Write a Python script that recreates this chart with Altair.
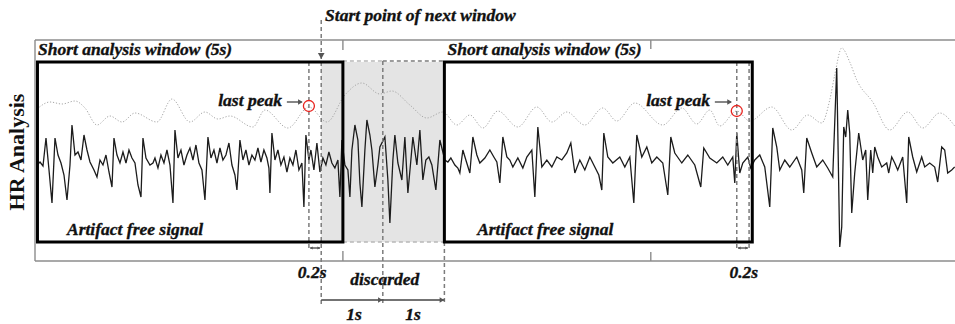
import altair as alt
import pandas as pd

FS = 61.6  # samples per second of the traces

# ---- HR signal (sample index, amplitude a.u.) ----
sig_n = [2, 5, 8, 11, 14, 17, 20, 23, 26, 29, 32, 35, 37, 40, 43, 46, 49, 52, 55, 59,
         62, 65, 68, 71, 74, 77, 79, 82, 85, 88, 91, 94, 97, 100, 103, 106, 108, 111, 115, 118,
         120, 123, 126, 129, 132, 135, 138, 140, 143, 146, 149, 152, 155, 158, 161, 164, 167, 170, 173, 176,
         179, 182, 185, 188, 191, 194, 197, 200, 202, 205, 208, 211, 214, 217, 220, 223, 226, 229, 232,
         234, 235, 237, 240, 243, 246, 249, 252, 255, 258, 261, 264, 267, 269, 271, 274, 276, 279, 282, 285,
         288, 291, 294, 297, 300, 303, 305, 307, 310, 313, 315, 317, 320, 323, 325, 327, 330, 332, 335, 337,
         340, 343, 345,
         350, 353, 355, 358, 360, 363, 367, 370, 373, 376, 378, 382, 385, 388, 391, 394, 397, 401, 405, 410,
         413, 416, 420, 423, 425, 428, 431, 435, 438, 442, 445, 450, 455, 459, 462, 465, 468, 472, 475, 478,
         483, 488, 492, 497, 500, 503, 507, 512, 517, 522, 527, 532, 536, 540, 545, 550, 555, 560, 564, 567,
         569, 573, 578, 585, 590, 595, 599, 602, 607, 612, 617, 622, 628, 633, 636, 640, 647, 653, 660, 666,
         669, 675, 682, 688, 693, 698, 700, 702, 705, 708, 713, 716, 720, 725, 730, 735, 738, 742, 745, 750,
         755, 762, 767, 769, 772, 777, 782, 788, 793, 798,
         802, 805, 807, 809, 811, 813, 815, 817, 820, 824, 828, 831, 833, 836, 838, 840, 843, 847, 852, 854,
         857, 860, 863, 868, 872, 874, 878, 882, 887, 890, 895, 900, 903, 907, 910, 913, 917, 920]
sig_a = [-5, -2, -6, 22, -10, -43, 22, 5, -3, -15, -40, -5, 35, 5, 8, 0, 25, 10, -2, -10,
         -17, 0, -5, 5, -12, -27, 22, 5, -3, 8, -3, 10, 2, -3, -25, -37, 22, 2, -5, -3,
         2, -8, 5, -3, 10, -5, -43, 30, 2, 10, -5, 5, 12, 0, 15, -3, -10, -40, 23, 2,
         10, -3, 12, 0, 5, 17, -5, -15, -30, 20, 0, 10, -5, 5, 0, 12, -2, 10, 2,
         -8, -33, 27, 0, 10, -5, 3, -12, 2, -5, 10, -10, -3, -47, 25, 0, 10, -10, 17, -12,
         2, -5, 8, -3, -8, 0, -37, 20, -5, -10, -37, 10, 35, 20, -23, -47, 10, 40, 25, 10,
         -27, -5, 13,
         23, -20, -63, 0, 25, -3, -20, 23, -33, 0, 23, -5, 30, -20, 0, 3, -5, -30, 20, 0,
         -2, 2, -5, -8, -13, 10, 0, -13, 23, 5, -3, 2, 10, 3, -2, -23, 23, 3, 0, -7,
         2, -8, 3, 10, -37, 33, -7, 0, -7, 3, 0, 7, 17, -13, 0, -10, 3, -7, -15, -30,
         27, 3, -3, 3, -7, 3, -43, 25, 3, 13, -3, 3, -3, -35, 23, 7, -3, 5, -5, -27,
         12, 2, -3, 3, -5, 3, -23, 27, -13, -3, 3, -8, 0, 5, -7, -47, 32, 13, -10, 0,
         -7, 3, -10, -33, 22, 7, -7, 0, -8, -17,
         92, -87, -67, 33, 23, 50, 27, -53, -13, 27, 0, 10, -40, 10, -13, 13, 3, -7, -3, -13,
         3, -3, -10, 3, -43, 23, 3, -12, 3, -7, -3, -7, -22, 13, 10, -13, -10, -7]

# ---- dotted peak-detection trace ----
env_n = [2, 15, 27, 40, 50, 62, 75, 87, 100, 122, 137, 155, 170, 183, 195, 218, 230, 253, 274, 292,
         310, 327, 345, 357, 375, 392, 408, 422, 435, 448, 463, 483, 502, 517, 532, 550, 568, 582, 600, 628,
         647, 662, 675, 685, 702, 715, 737, 757, 773, 787, 795, 800, 807, 815, 822, 838, 855, 873, 888, 905, 920]
env_a = [51, 58, 56, 59, 52, 35, 44, 38, 47, 38, 61, 38, 48, 41, 44, 33, 50, 32, 53, 38,
         65, 77, 66, 69, 55, 42, 48, 35, 45, 32, 49, 33, 53, 38, 48, 35, 52, 39, 57, 35,
         52, 36, 50, 34, 49, 39, 53, 30, 45, 37, 60, 85, 112, 98, 80, 58, 30, 48, 32, 47, 34]

# ---- annotation values (seconds / a.u.) ----
peak_n = [274, 702]
peak_a = [54, 49]
win_start = [0.04, 6.648]
win_end = [5.0, 11.648]
box_top, box_bottom = 98, -82
frame_top, frame_bottom = 120, -101
X_MAX = 14.94

sig = pd.DataFrame({"t": [n / FS for n in sig_n], "a": sig_a})
env = pd.DataFrame({"t": [n / FS for n in env_n], "a": env_a})
peak_t = [n / FS for n in peak_n]
next_start = peak_t[0] + 0.2

xs = alt.Scale(domain=[0, X_MAX], nice=False, zero=False)
ys = alt.Scale(domain=[frame_bottom, frame_top], nice=False, zero=False)


def X(f="x"):
    return alt.X(f"{f}:Q", scale=xs, axis=None)


def Y(f="y"):
    return alt.Y(f"{f}:Q", scale=ys, axis=None)


FONT = "Liberation Serif"

shade = alt.Chart(pd.DataFrame([{"x": next_start, "x2": next_start + 2, "y": box_top, "y2": box_bottom}])).mark_rect(
    color="#e4e4e4").encode(x=X(), x2="x2:Q", y=Y(), y2="y2:Q")

frame_df = pd.DataFrame([
    {"x": 0, "x2": X_MAX, "y": frame_top, "y2": frame_top},
    {"x": 0, "x2": X_MAX, "y": frame_bottom, "y2": frame_bottom},
    {"x": 0, "x2": 0, "y": frame_top, "y2": frame_bottom},
    {"x": 5, "x2": 5, "y": frame_top, "y2": frame_top - 10},
    {"x": 10, "x2": 10, "y": frame_top, "y2": frame_top - 9},
    {"x": 5, "x2": 5, "y": frame_bottom, "y2": frame_bottom + 10},
    {"x": 10, "x2": 10, "y": frame_bottom, "y2": frame_bottom + 9},
])
frame = alt.Chart(frame_df).mark_rule(color="#8c8c8c", strokeWidth=1.4).encode(
    x=X(), x2="x2:Q", y=Y(), y2="y2:Q")

env_line = alt.Chart(env).mark_line(interpolate="monotone", color="#a6a6a6", strokeWidth=1,
                                    strokeDash=[1.2, 1.8]).encode(x=X("t"), y=Y("a"))
sig_line = alt.Chart(sig).mark_line(color="#1c1c1c", strokeWidth=1.3).encode(x=X("t"), y=Y("a"))

dark_dash = pd.DataFrame([
    {"x": peak_t[0], "x2": peak_t[0], "y": box_top, "y2": -90},
    {"x": next_start, "x2": next_start, "y": 140, "y2": -145},
    {"x": next_start + 1, "x2": next_start + 1, "y": 99, "y2": -145},
    {"x": next_start + 2, "x2": next_start + 2, "y": box_bottom, "y2": -145},
    {"x": next_start + 1, "x2": next_start + 2, "y": 99, "y2": 99},
    {"x": peak_t[1], "x2": peak_t[1], "y": box_top, "y2": -90},
    {"x": peak_t[1] + 0.2, "x2": peak_t[1] + 0.2, "y": box_top, "y2": -90},
])
light_dash = pd.DataFrame([
    {"x": 5.0, "x2": next_start + 1, "y": 99, "y2": 99},
    {"x": 5.0, "x2": next_start + 2, "y": box_bottom, "y2": box_bottom},
])
dashes = alt.Chart(dark_dash).mark_rule(color="#7c7c7c", strokeWidth=1.5, strokeDash=[4, 3]).encode(
    x=X(), x2="x2:Q", y=Y(), y2="y2:Q")
ldashes = alt.Chart(light_dash).mark_rule(color="#b8b8b8", strokeWidth=1.5, strokeDash=[4, 3]).encode(
    x=X(), x2="x2:Q", y=Y(), y2="y2:Q")

windows = alt.Chart(pd.DataFrame({"x": win_start, "x2": win_end, "y": [box_top] * 2, "y2": [box_bottom] * 2})).mark_rect(
    fillOpacity=0, stroke="black", strokeWidth=3).encode(x=X(), x2="x2:Q", y=Y(), y2="y2:Q")

arrow_df = pd.DataFrame([
    {"x": next_start, "x2": next_start + 1, "y": -140, "y2": -140},
    {"x": next_start + 1, "x2": next_start + 2, "y": -140, "y2": -140},
    {"x": peak_t[0] + 0.02, "x2": next_start - 0.02, "y": -88, "y2": -88},
    {"x": peak_t[1] + 0.02, "x2": peak_t[1] + 0.18, "y": -88, "y2": -88},
    {"x": 4.09, "x2": 4.33, "y": 58, "y2": 58},
    {"x": 11.04, "x2": 11.30, "y": 58, "y2": 58},
])
arrows = alt.Chart(arrow_df).mark_rule(color="#444444", strokeWidth=1.3).encode(
    x=X(), x2="x2:Q", y=Y(), y2="y2:Q")

head_df = pd.DataFrame([
    {"x": next_start + 0.96, "y": -140, "s": "triangle-right", "z": 28},
    {"x": next_start + 1.96, "y": -140, "s": "triangle-right", "z": 28},
    {"x": peak_t[0] + 0.04, "y": -88, "s": "triangle-left", "z": 10},
    {"x": next_start - 0.04, "y": -88, "s": "triangle-right", "z": 10},
    {"x": peak_t[1] + 0.04, "y": -88, "s": "triangle-left", "z": 10},
    {"x": peak_t[1] + 0.16, "y": -88, "s": "triangle-right", "z": 10},
    {"x": 4.31, "y": 58, "s": "triangle-right", "z": 30},
    {"x": 11.28, "y": 58, "s": "triangle-right", "z": 30},
    {"x": next_start, "y": 104, "s": "triangle-down", "z": 45},
])
heads = alt.Chart(head_df).mark_point(filled=True, color="#555555", opacity=1).encode(
    x=X(), y=Y(), shape=alt.Shape("s:N", scale=None), size=alt.Size("z:Q", scale=None))

circles = alt.Chart(pd.DataFrame({"x": peak_t, "y": peak_a})).mark_point(
    shape="circle", filled=False, color="#e8241f", size=121, strokeWidth=1.3, opacity=1).encode(x=X(), y=Y())

txt_left = pd.DataFrame([
    {"x": 4.71, "y": 139, "label": "Start point of next window"},
    {"x": 0.05, "y": 105, "label": "Short analysis window (5s)"},
    {"x": 6.70, "y": 105, "label": "Short analysis window (5s)"},
    {"x": 0.52, "y": -75, "label": "Artifact free signal"},
    {"x": 7.18, "y": -75, "label": "Artifact free signal"},
])
txt_right = pd.DataFrame([
    {"x": 4.01, "y": 54, "label": "last peak"},
    {"x": 10.96, "y": 54, "label": "last peak"},
])
txt_center = pd.DataFrame([
    {"x": 4.50, "y": -118, "label": "0.2s"},
    {"x": 11.51, "y": -118, "label": "0.2s"},
    {"x": 5.68, "y": -125, "label": "discarded"},
    {"x": 5.18, "y": -160, "label": "1s"},
    {"x": 6.14, "y": -160, "label": "1s"},
])


def texts(df, align):
    return alt.Chart(df).mark_text(font=FONT, fontStyle="italic", fontWeight="bold", fontSize=17.5,
                                   align=align, baseline="alphabetic", color="#111111",
                                   stroke="#111111", strokeWidth=0.35).encode(
        x=X(), y=Y(), text="label:N")


ylab = alt.Chart(pd.DataFrame([{"x": -0.29, "y": 8, "label": "HR Analysis"}])).mark_text(
    font=FONT, fontWeight="bold", fontSize=22, angle=270, align="center", baseline="middle",
    color="#111111").encode(x=X(), y=Y(), text="label:N")

chart = alt.layer(
    shade, frame, env_line, sig_line, ldashes, dashes, windows, arrows, heads, circles,
    texts(txt_left, "left"), texts(txt_right, "right"), texts(txt_center, "center"), ylab
).properties(
    width=920, height=221,
    autosize=alt.AutoSizeParams(type="none"),
    padding={"left": 35, "top": 40, "right": 0, "bottom": 63},
    background="white",
).configure_view(stroke="transparent")

chart.save("out.html", embed_options={"renderer": "svg", "actions": False})
